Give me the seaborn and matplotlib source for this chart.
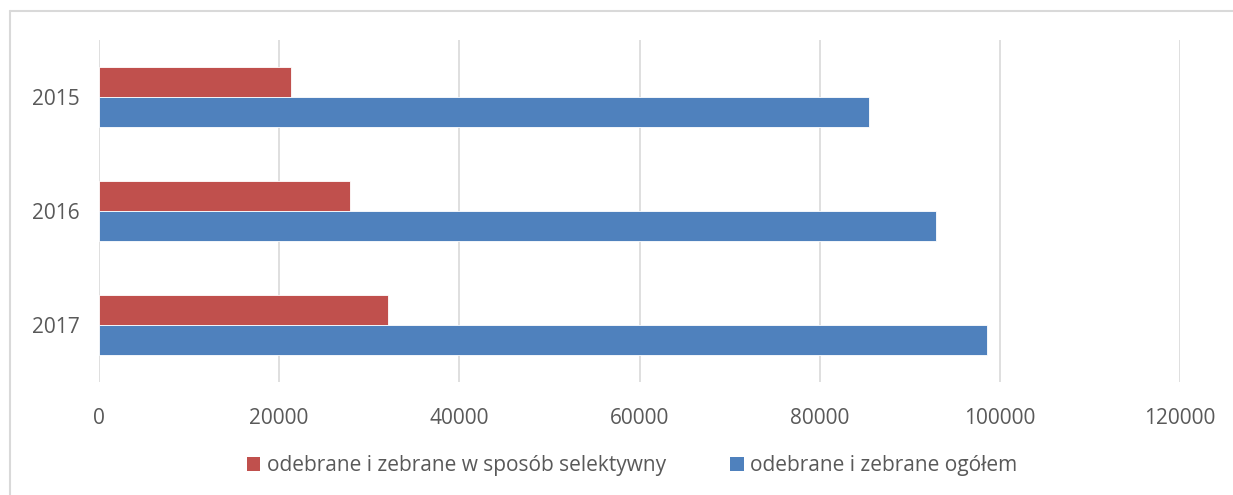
import matplotlib
matplotlib.use("Agg")
import matplotlib.pyplot as plt
import seaborn as sns
import pandas as pd
from matplotlib.lines import Line2D
from matplotlib.patches import Patch

years = ["2015", "2016", "2017"]
series_names = ["odebrane i zebrane w sposób selektywny", "odebrane i zebrane ogółem"]
selective = [21350, 27900, 32120]
total = [85510, 92950, 98610]
colors = ["#C0504D", "#4F81BD"]
xticks = [0, 20000, 40000, 60000, 80000, 100000, 120000]

df = pd.DataFrame({
    "year": years * 2,
    "series": [series_names[0]] * 3 + [series_names[1]] * 3,
    "value": selective + total,
})

sns.set_theme(style="white")
plt.rcParams["font.family"] = ["Open Sans", "DejaVu Sans"]

fig = plt.figure(figsize=(12.33, 4.95), dpi=100)
ax = fig.add_axes([99 / 1233, 1 - 382 / 495, (1180 - 99) / 1233, (382 - 40) / 495])

sns.barplot(data=df, y="year", x="value", hue="series", order=years,
            hue_order=series_names, palette=colors, orient="h",
            width=0.52, ax=ax, legend=False, saturation=1,
            edgecolor="white", linewidth=0.6)

ax.set_xlim(0, 120000)
ax.set_xticks(xticks)
ax.set_xticklabels([str(v) for v in xticks])
ax.xaxis.grid(True, color="#D9D9D9", linewidth=1.2)
ax.set_axisbelow(True)
for s in ax.spines.values():
    s.set_visible(False)
ax.set_xlabel("")
ax.set_ylabel("")
ax.tick_params(axis="x", colors="#595959", labelsize=15, length=0, pad=19)
ax.tick_params(axis="y", colors="#595959", labelsize=15, length=0, pad=14)

handles = [Patch(facecolor=c, edgecolor="none") for c in colors]
fig.legend(handles, series_names, loc="center", bbox_to_anchor=(632 / 1233, 1 - 466 / 495),
           ncol=2, frameon=False, fontsize=15, labelcolor="#595959",
           handlelength=0.65, handleheight=0.65, handletextpad=0.3, columnspacing=3.1)

# outer chart border (left and top visible)
fig.add_artist(Line2D([10 / 1233, 10 / 1233], [0, 1 - 11 / 495], transform=fig.transFigure,
                      color="#D9D9D9", linewidth=1.5))
fig.add_artist(Line2D([10 / 1233, 1], [1 - 11 / 495, 1 - 11 / 495], transform=fig.transFigure,
                      color="#D9D9D9", linewidth=1.5))

fig.savefig("out.png", dpi=100)
